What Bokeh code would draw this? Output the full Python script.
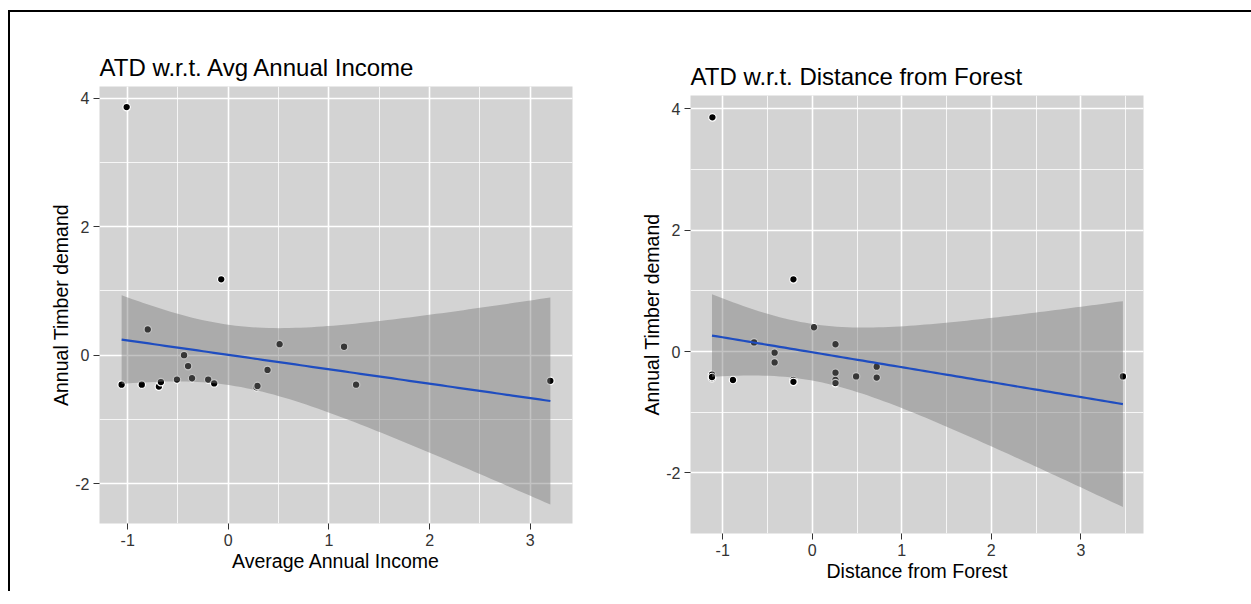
import numpy as np
from bokeh.plotting import figure
from bokeh.layouts import row, column
from bokeh.models import SingleIntervalTicker, ColumnDataSource, Title, Range1d, Spacer
from bokeh.embed import file_html
from bokeh.resources import INLINE

# ---------------- data ----------------
income_x = [-1.06, -0.86, -0.69, -0.67, -0.80, -0.51, -0.44, -0.40, -0.36, -0.20,
            -0.14, 0.28, 0.29, 0.39, 0.51, 1.15, 1.27, -1.01, -0.07, 3.20]
income_y = [-0.46, -0.46, -0.49, -0.42, 0.40, -0.38, 0.00, -0.17, -0.36, -0.38,
            -0.44, -0.50, -0.48, -0.23, 0.17, 0.13, -0.46, 3.86, 1.18, -0.40]

distance_x = [-1.115, -0.21, 0.02, -0.65, 0.26, -0.42, -0.42, 0.72, 0.72, 0.49,
              0.26, 0.26, 0.26, -0.885, -0.21, -0.21, -1.12, -1.12, -1.12, 3.47]
distance_y = [3.86, 1.19, 0.40, 0.15, 0.12, -0.02, -0.18, -0.25, -0.43, -0.41,
              -0.35, -0.47, -0.52, -0.47, -0.47, -0.50, -0.38, -0.44, -0.42, -0.41]

x_tick_labels = {-1: "-1", 0: "0", 1: "1", 2: "2", 3: "3"}
y_tick_labels = {-2: "-2", 0: "0", 2: "2", 4: "4"}

titles = ["ATD w.r.t. Avg Annual Income", "ATD w.r.t. Distance from Forest"]
x_labels = ["Average Annual Income", "Distance from Forest"]
y_label = "Annual Timber demand"

# t quantile (0.975) for the lm confidence band, by residual degrees of freedom
T975 = {17: 2.109816, 18: 2.100922, 19: 2.093024}

FONT = "Liberation Sans"
PANEL = "#D3D3D3"


def lm_band(x, y, n_out=80):
    x = np.asarray(x, float)
    y = np.asarray(y, float)
    n = len(x)
    b, a = np.polyfit(x, y, 1)
    xs = np.linspace(x.min(), x.max(), n_out)
    fit = a + b * xs
    resid = y - (a + b * x)
    s = np.sqrt((resid ** 2).sum() / (n - 2))
    sxx = ((x - x.mean()) ** 2).sum()
    se = s * np.sqrt(1.0 / n + (xs - x.mean()) ** 2 / sxx)
    t = T975[n - 2]
    return xs, fit, fit - t * se, fit + t * se


def panel(x, y, title, xlabel, xr, yr, left, top, fw, fh, width, height):
    p = figure(width=width, height=height, x_range=Range1d(*xr), y_range=Range1d(*yr),
               output_backend="svg", toolbar_location=None,
               min_border_left=left, min_border_top=top,
               min_border_right=width - left - fw, min_border_bottom=height - top - fh,
               frame_width=fw, frame_height=fh)
    p.title = Title(text=title, text_font=FONT, text_font_size="24px",
                    text_font_style="normal", text_color="black", standoff=11,
                    align="left", offset=0)
    p.background_fill_color = PANEL
    p.border_fill_color = "white"
    p.outline_line_color = None

    p.xaxis.ticker = SingleIntervalTicker(interval=1, num_minor_ticks=2)
    p.yaxis.ticker = SingleIntervalTicker(interval=2, num_minor_ticks=2)
    p.xaxis.major_label_overrides = x_tick_labels
    p.yaxis.major_label_overrides = y_tick_labels
    for g in (p.xgrid, p.ygrid):
        g.grid_line_color = "white"
        g.grid_line_width = 1.6
        g.minor_grid_line_color = "white"
        g.minor_grid_line_width = 0.8
    for ax in (p.xaxis, p.yaxis):
        ax.axis_line_color = None
        ax.major_tick_line_color = "#333333"
        ax.major_tick_line_width = 1
        ax.major_tick_out = 6
        ax.major_tick_in = 0
        ax.minor_tick_line_color = None
        ax.major_label_text_font = FONT
        ax.major_label_text_font_size = "16px"
        ax.major_label_text_color = "#333333"
        ax.axis_label_text_font = FONT
        ax.axis_label_text_font_size = "19.5px"
        ax.axis_label_text_font_style = "normal"
        ax.axis_label_text_color = "black"
    p.xaxis.axis_label = xlabel
    p.yaxis.axis_label = y_label
    p.xaxis.major_label_standoff = 4
    p.yaxis.major_label_standoff = 4
    p.xaxis.axis_label_standoff = 1
    p.yaxis.axis_label_standoff = 0

    src = ColumnDataSource(dict(x=x, y=y))
    p.scatter("x", "y", source=src, size=7.5, fill_color="black",
              line_color="white", line_width=1.2)

    xs, fit, lo, hi = lm_band(x, y)
    p.varea(x=xs, y1=lo, y2=hi, fill_color="#7a7a7a", fill_alpha=0.45)
    p.line(xs, fit, line_color="#1F4DC0", line_width=2.2)
    return p


W1, W2 = 600, 641
p1 = panel(income_x, income_y, titles[0], x_labels[0], (-1.28, 3.42), (-2.62, 4.18),
           left=89, top=74, fw=473, fh=437, width=W1, height=578)
p2 = panel(distance_x, distance_y, titles[1], x_labels[1], (-1.36, 3.70), (-3.0, 4.22),
           left=80, top=74, fw=453, fh=438, width=W2, height=570)

right_col = column(Spacer(width=W2, height=9), p2)

# outer frame of the picture: a black rule along the top and the left
layout = row(p1, right_col, margin=(10, 0, 0, 8),
             styles={"border-top": "2px solid black", "border-left": "2px solid black"})

open("out.html", "w").write(file_html(layout, INLINE))
